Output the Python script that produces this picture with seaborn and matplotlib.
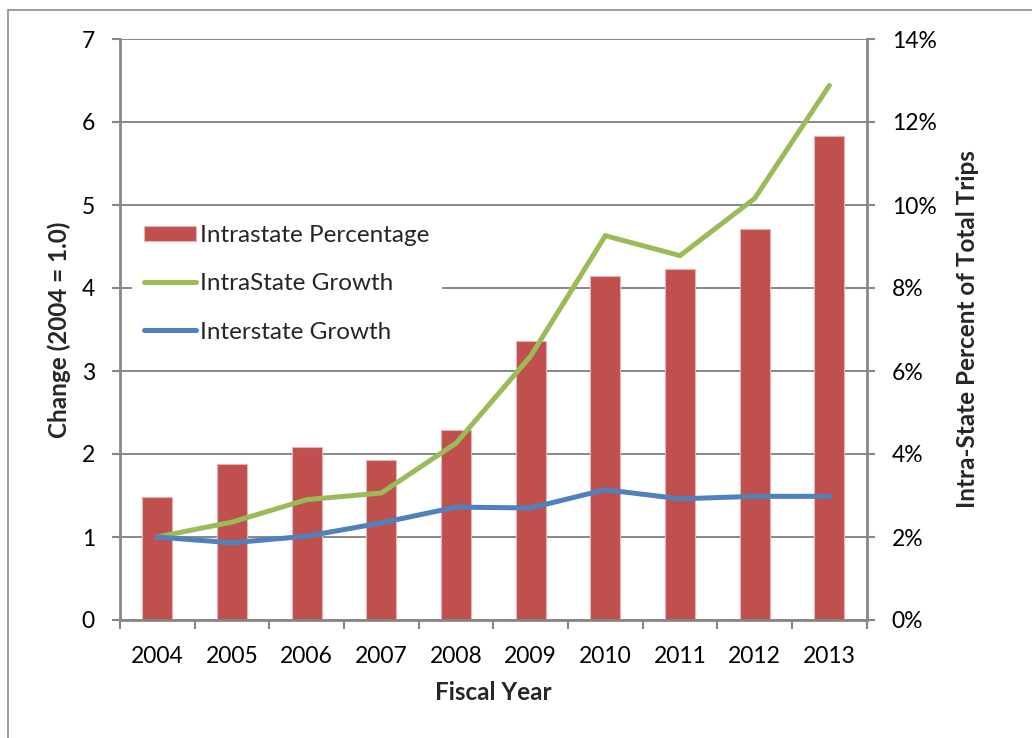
import numpy as np
import pandas as pd
import matplotlib
matplotlib.use("Agg")
import matplotlib.pyplot as plt
import seaborn as sns
from matplotlib.patches import Rectangle
from matplotlib.ticker import FuncFormatter, MultipleLocator

# ---- data ----
years = ["2004", "2005", "2006", "2007", "2008", "2009", "2010", "2011", "2012", "2013"]
intrastate_pct = [2.97, 3.77, 4.17, 3.85, 4.59, 6.72, 8.30, 8.46, 9.43, 11.67]
intrastate_growth = [1.00, 1.18, 1.45, 1.53, 2.13, 3.18, 4.63, 4.39, 5.08, 6.44]
interstate_growth = [1.00, 0.93, 1.01, 1.17, 1.36, 1.35, 1.57, 1.46, 1.49, 1.49]

RED = "#C0504D"
GREEN = "#9BBB59"
BLUE = "#4F81BD"
GRAY = "#878787"

sns.set_theme(style="white")
plt.rcParams["font.family"] = ["Lato", "DejaVu Sans"]

df = pd.DataFrame({
    "year": years,
    "pct": intrastate_pct,
    "intra": intrastate_growth,
    "inter": interstate_growth,
})

fig = plt.figure(figsize=(10.32, 7.38), dpi=100)
W, H = 1032, 738
left, right, top, bottom = 120, 866.7, 39, 620
ax = fig.add_axes([left / W, 1 - bottom / H, (right - left) / W, (bottom - top) / H])
ax2 = ax.twinx()

# bars on the right (percent) axis
sns.barplot(data=df, x="year", y="pct", ax=ax2, color=RED, saturation=1,
            width=0.40, edgecolor="#E8B4B3", linewidth=0.8,
            label="Intrastate Percentage")
# lines on the left (growth) axis
sns.lineplot(data=df, x="year", y="intra", ax=ax, color=GREEN, linewidth=3.6,
             label="IntraState Growth", solid_capstyle="round", solid_joinstyle="miter")
sns.lineplot(data=df, x="year", y="inter", ax=ax, color=BLUE, linewidth=3.6,
             label="Interstate Growth", solid_capstyle="round", solid_joinstyle="miter")
if ax2.get_legend() is not None:
    ax2.get_legend().remove()

# layering: lines axis above bars axis
ax2.set_zorder(1)
ax.set_zorder(2)
ax.patch.set_visible(False)
ax2.patch.set_visible(True)
ax2.patch.set_facecolor("white")

# scales
ax.set_ylim(0, 7)
ax.yaxis.set_major_locator(MultipleLocator(1))
ax2.set_ylim(0, 14)
ax2.yaxis.set_major_locator(MultipleLocator(2))
ax2.yaxis.set_major_formatter(FuncFormatter(lambda v, p: f"{v:.0f}%"))

n = len(years)
ax.set_xlim(-0.5, n - 0.5)
ax.set_xticks(np.arange(n + 1) - 0.5)
ax.set_xticklabels([""] * (n + 1))
ax.set_xticks(np.arange(n), minor=True)
ax.set_xticklabels(years, minor=True)

# gridlines (drawn on the bars axis, behind bars)
ax2.grid(True, axis="y", color=GRAY, linewidth=1.4)
ax2.set_axisbelow(True)
ax.grid(False)

# spines
for a in (ax, ax2):
    for s in a.spines.values():
        s.set_visible(False)
for a, side in ((ax, "left"), (ax, "bottom"), (ax2, "right")):
    a.spines[side].set_visible(True)
    a.spines[side].set_color(GRAY)
    a.spines[side].set_linewidth(2)

fs = 16.5
ax.tick_params(axis="y", which="major", direction="out", length=6, width=1.5,
               color=GRAY, labelsize=fs, pad=12, left=True, labelcolor="black")
ax.tick_params(axis="x", which="major", direction="out", length=6.5, width=1.5,
               color=GRAY, bottom=True)
ax.tick_params(axis="x", which="minor", length=0, labelsize=fs, pad=19,
               labelcolor="black")
ax2.tick_params(axis="y", which="major", direction="out", length=6, width=1.5,
                color=GRAY, labelsize=fs, pad=12, right=True, labelcolor="black")
ax2.tick_params(axis="x", which="both", bottom=False, labelbottom=False)

tfs = 17.5
ax.set_xlabel("Fiscal Year", fontsize=tfs, fontweight="bold", labelpad=10)
ax.set_ylabel("Change (2004 = 1.0)", fontsize=tfs, fontweight="bold", labelpad=8)
ax2.set_ylabel("Intra-State Percent of Total Trips", fontsize=tfs,
               fontweight="bold", labelpad=14)

# legend
h1, l1 = ax2.get_legend_handles_labels()
h2, l2 = ax.get_legend_handles_labels()
leg = ax.legend(h1 + h2, l1 + l2, loc="upper left",
                bbox_to_anchor=(132 / W, 1 - 213 / H), bbox_transform=fig.transFigure,
                frameon=True, facecolor="white", edgecolor="none", framealpha=1,
                fontsize=17.5, handlelength=2.14, handleheight=0.6,
                handletextpad=0.16, labelspacing=1.12, borderaxespad=0,
                borderpad=0.5, fancybox=False)
leg.get_frame().set_linewidth(0)

# outer chart border
fig.patches.append(Rectangle((8 / W, -0.2), 1.5, 0.2 + 1 - 10 / H,
                             transform=fig.transFigure, fill=False,
                             edgecolor="#8C8C8C", linewidth=1.2))

fig.savefig("out.png", dpi=100, facecolor="white")
